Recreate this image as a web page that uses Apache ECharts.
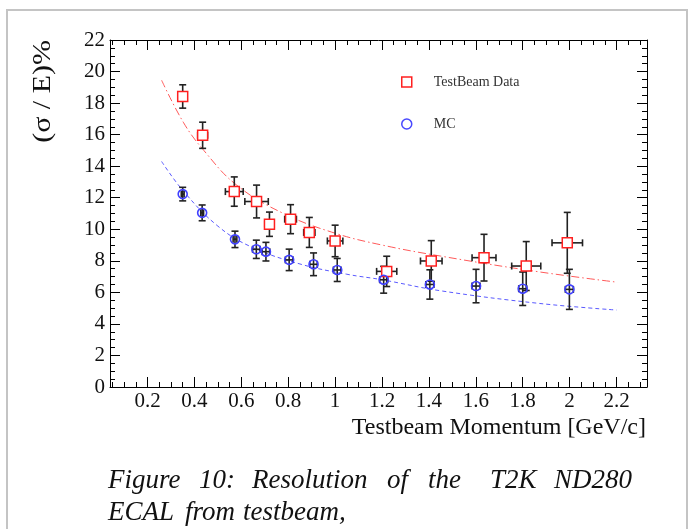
<!DOCTYPE html>
<html>
<head>
<meta charset="utf-8">
<script src="https://cdn.jsdelivr.net/npm/echarts@6/dist/echarts.min.js"></script>
<style>
  html, body { margin: 0; padding: 0; background: #fff; }
  #chart { width: 689px; height: 529px; }
</style>
</head>
<body>
<div id="chart"></div>
<script>
// Test-beam energy resolution of the ECAL versus beam momentum
const dataName = 'TestBeam Data';
const mcName = 'MC';

const dataX    = [0.35, 0.435, 0.57, 0.665, 0.72, 0.81, 0.89, 1.0, 1.22, 1.41, 1.635, 1.815, 1.99];
const dataY    = [18.42, 15.96, 12.39, 11.76, 10.32, 10.64, 9.80, 9.26, 7.33, 7.99, 8.20, 7.67, 9.14];
const dataXErr = [0.0, 0.021, 0.038, 0.05, 0.02, 0.025, 0.024, 0.033, 0.043, 0.046, 0.051, 0.062, 0.065];
const dataYErr = [0.74, 0.83, 0.93, 1.04, 0.77, 0.92, 0.95, 1.0, 0.96, 1.29, 1.48, 1.55, 1.93];

const mcX    = [0.35, 0.433, 0.573, 0.664, 0.705, 0.804, 0.908, 1.009, 1.207, 1.404, 1.601, 1.80, 1.999];
const mcY    = [12.23, 11.04, 9.36, 8.73, 8.58, 8.06, 7.78, 7.42, 6.80, 6.50, 6.40, 6.23, 6.19];
const mcXErr = [0.006, 0.006, 0.008, 0.016, 0.016, 0.016, 0.016, 0.016, 0.017, 0.017, 0.017, 0.017, 0.017];
const mcYErr = [0.43, 0.50, 0.52, 0.58, 0.59, 0.68, 0.72, 0.73, 0.85, 0.93, 1.06, 1.06, 1.27];

// fitted resolution curves, read along their length
const dataFitX = [0.26, 0.354, 0.44, 0.58, 0.78, 1.0, 1.2, 1.45, 1.87, 2.2];
const dataFitY = [19.45, 16.75, 15.0, 12.8, 11.0, 9.75, 9.0, 8.3, 7.3, 6.65];
const mcFitX   = [0.26, 0.354, 0.5, 0.64, 0.85, 1.05, 1.2, 1.45, 1.87, 2.2];
const mcFitY   = [14.3, 12.4, 10.2, 8.9, 7.8, 7.15, 6.8, 6.1, 5.3, 4.88];

const xTickLabels = [0.2, 0.4, 0.6, 0.8, 1, 1.2, 1.4, 1.6, 1.8, 2, 2.2];
const xRange = [0.04, 2.33];
const yRange = [0, 22];

const xMinorTicks = [];
for (let i = 1; i * 0.05 < xRange[1]; i++) {
  const v = Math.round(i * 5) / 100;
  if (v > xRange[0] && Math.round(v * 100) % 20 !== 0) xMinorTicks.push(v);
}

const serif = 'Liberation Serif';
const ink = '#000';

const chart = echarts.init(document.getElementById('chart'), null, { renderer: 'canvas' });

function pairs(xs, ys) { return xs.map((x, i) => [x, ys[i]]); }

function errorBars(name, xs, ys, xe, ye) {
  return {
    type: 'custom',
    name: name,
    silent: true,
    z: 3,
    xAxisIndex: 0,
    yAxisIndex: 0,
    data: xs.map((x, i) => [x, ys[i], xe[i], ye[i]]),
    encode: { x: 0, y: 1 },
    renderItem: function (params, api) {
      const x = api.value(0), y = api.value(1), dx = api.value(2), dy = api.value(3);
      const c = api.coord([x, y]);
      const top = api.coord([x, y + dy])[1];
      const bot = api.coord([x, y - dy])[1];
      const cap = 3.5;
      const style = { stroke: '#222', lineWidth: 1.6 };
      const kids = [
        { type: 'line', shape: { x1: c[0], y1: top, x2: c[0], y2: bot }, style: style },
        { type: 'line', shape: { x1: c[0] - cap, y1: top, x2: c[0] + cap, y2: top }, style: style },
        { type: 'line', shape: { x1: c[0] - cap, y1: bot, x2: c[0] + cap, y2: bot }, style: style }
      ];
      if (dx > 0) {
        const l = api.coord([x - dx, y])[0];
        const r = api.coord([x + dx, y])[0];
        kids.push(
          { type: 'line', shape: { x1: l, y1: c[1], x2: r, y2: c[1] }, style: style },
          { type: 'line', shape: { x1: l, y1: c[1] - cap, x2: l, y2: c[1] + cap }, style: style },
          { type: 'line', shape: { x1: r, y1: c[1] - cap, x2: r, y2: c[1] + cap }, style: style }
        );
      }
      return { type: 'group', children: kids };
    }
  };
}

const frameLine = { show: true, onZero: false, lineStyle: { color: ink, width: 1 } };
const gridRect = { left: 110, right: 42, top: 40, bottom: 142, outerBoundsMode: 'none' };

function xAxisDef(gridIndex, position, ticks, len, withLine, withLabels) {
  return {
    type: 'value', gridIndex: gridIndex, position: position,
    min: xRange[0], max: xRange[1],
    axisLine: withLine ? frameLine : { show: false },
    axisTick: { show: true, inside: true, length: len, customValues: ticks, lineStyle: { color: ink, width: 1 } },
    axisLabel: withLabels ? {
      show: true, customValues: xTickLabels, margin: 4,
      fontFamily: serif, fontSize: 21, color: '#111',
      formatter: v => String(v)
    } : { show: false },
    splitLine: { show: false }
  };
}

function yAxisDef(position, withLabels) {
  return {
    type: 'value', gridIndex: 0, position: position,
    min: yRange[0], max: yRange[1], interval: 2,
    axisLine: frameLine,
    axisTick: { show: true, inside: true, length: 10, lineStyle: { color: ink, width: 1 } },
    minorTick: { show: true, splitNumber: 4, length: 5, lineStyle: { color: ink, width: 1 } },
    axisLabel: withLabels ? { show: true, margin: 5, fontFamily: serif, fontSize: 21, color: '#111' } : { show: false },
    splitLine: { show: false },
    minorSplitLine: { show: false }
  };
}

// caption words; the first line is justified between the two margins
const captionLine1 = ['Figure', '10:', 'Resolution', 'of', 'the', 'T2K', 'ND280'];
const captionLine2 = ['ECAL', 'from', 'testbeam,'];
const caption1X = [108, 199, 252, 387, 428, 490, 632];
const caption2X = [108, 185, 243];

const captionStyle = { fontFamily: serif, fontStyle: 'italic', fontSize: 27, fill: '#111', textVerticalAlign: 'middle' };
const captionGraphics = [];
captionLine1.forEach((w, i) => captionGraphics.push({
  type: 'text', x: caption1X[i], y: 481,
  style: Object.assign({ text: w, textAlign: i === captionLine1.length - 1 ? 'right' : 'left' }, captionStyle)
}));
captionLine2.forEach((w, i) => captionGraphics.push({
  type: 'text', x: caption2X[i], y: 513,
  style: Object.assign({ text: w }, captionStyle)
}));

const option = {
  backgroundColor: '#fff',
  animation: false,
  grid: [Object.assign({}, gridRect), Object.assign({}, gridRect)],
  xAxis: [
    xAxisDef(0, 'bottom', xTickLabels, 10, true, true),
    xAxisDef(0, 'top', xTickLabels, 10, true, false),
    xAxisDef(1, 'bottom', xMinorTicks, 5, false, false),
    xAxisDef(1, 'top', xMinorTicks, 5, false, false)
  ],
  yAxis: [
    yAxisDef('left', true),
    yAxisDef('right', false),
    { type: 'value', gridIndex: 1, show: false, min: yRange[0], max: yRange[1] }
  ],
  legend: {
    orient: 'vertical', left: 401, top: 75, padding: 0,
    itemWidth: 10, itemHeight: 10, itemGap: 28,
    selectedMode: false,
    textStyle: { fontFamily: serif, fontSize: 14, color: '#333', padding: [0, 0, 0, 17] },
    data: [
      { name: dataName, icon: 'rect', itemStyle: { color: '#fff', borderColor: '#ff2020', borderWidth: 1.5 } },
      { name: mcName, icon: 'circle', itemStyle: { color: '#fff', borderColor: '#4848ff', borderWidth: 1.5 } }
    ]
  },
  series: [
    {
      type: 'line', name: 'data fit', xAxisIndex: 0, yAxisIndex: 0, z: 1,
      data: pairs(dataFitX, dataFitY), smooth: 0.4, showSymbol: false, silent: true,
      lineStyle: { color: '#ff5a5a', width: 1, type: [8, 3, 1.5, 3] }
    },
    {
      type: 'line', name: 'mc fit', xAxisIndex: 0, yAxisIndex: 0, z: 1,
      data: pairs(mcFitX, mcFitY), smooth: 0.4, showSymbol: false, silent: true,
      lineStyle: { color: '#5a5aff', width: 1, type: [4, 3] }
    },
    errorBars('data errors', dataX, dataY, dataXErr, dataYErr),
    errorBars('mc errors', mcX, mcY, mcXErr, mcYErr),
    {
      type: 'scatter', name: dataName, xAxisIndex: 0, yAxisIndex: 0, z: 5,
      data: pairs(dataX, dataY), symbol: 'rect', symbolSize: 10,
      itemStyle: { color: '#fff', borderColor: '#ff2020', borderWidth: 1.5, opacity: 1 }
    },
    {
      type: 'scatter', name: mcName, xAxisIndex: 0, yAxisIndex: 0, z: 5,
      data: pairs(mcX, mcY), symbol: 'circle', symbolSize: 9,
      itemStyle: { color: 'rgba(255,255,255,0)', borderColor: '#4040ff', borderWidth: 1.6, opacity: 1 }
    }
  ],
  graphic: [
    { type: 'rect', shape: { x: 7, y: 10, width: 680, height: 560 }, style: { fill: 'none', stroke: '#c4c4c4', lineWidth: 2 }, silent: true },
    { type: 'text', x: 43, y: 40, rotation: Math.PI / 2, scaleX: 1.2,
      style: { text: '(σ / E)%', fontFamily: serif, fontSize: 25, fill: '#111', textAlign: 'right', textVerticalAlign: 'middle' } },
    { type: 'text', x: 646, y: 428,
      style: { text: 'Testbeam Momentum [GeV/c]', fontFamily: serif, fontSize: 24, fill: '#111', textAlign: 'right', textVerticalAlign: 'middle' } }
  ].concat(captionGraphics)
};

chart.setOption(option);
</script>
</body>
</html>
